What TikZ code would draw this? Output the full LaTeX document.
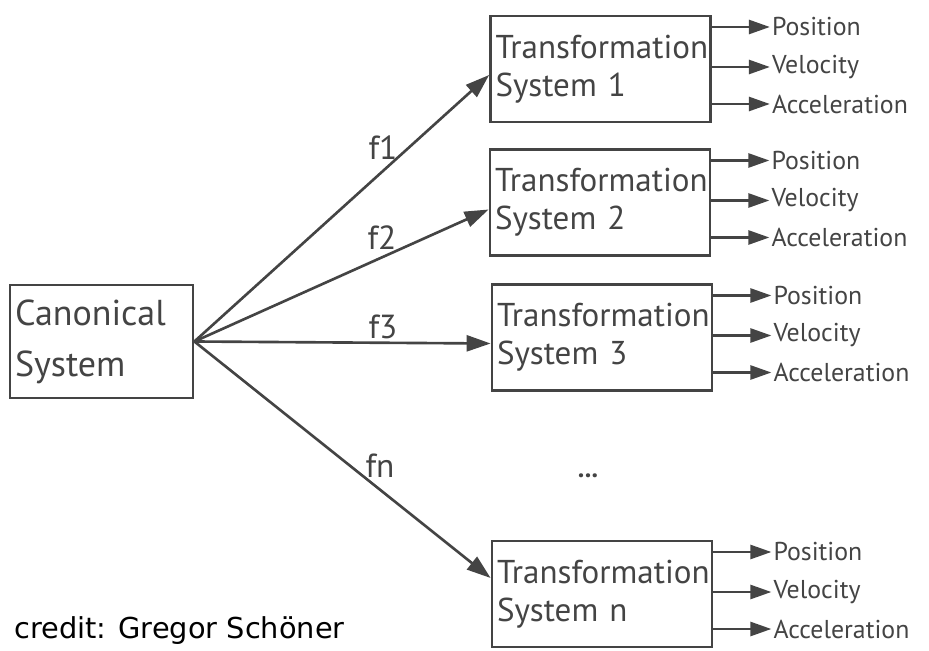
\documentclass[tikz,border=0pt]{standalone}
\usepackage{fontspec}
\setmainfont{PT Sans}
\newfontfamily\creditfont{DejaVu Sans}
\usetikzlibrary{arrows.meta, positioning, calc}
\definecolor{mydark}{RGB}{68,68,68}
\tikzset{
  sysbox/.style={rectangle, draw=mydark, line width=1.6pt, text=mydark,
    minimum width=4.4cm, minimum height=2.12cm, text width=4.2cm,
    align=left, inner xsep=0.1cm, font=\fontsize{18.8}{21.5}\selectfont},
  canonbox/.style={sysbox, minimum width=3.66cm, minimum height=2.26cm,
    text width=3.46cm, font=\fontsize{20.5}{29}\selectfont},
  arrow/.style={-{Triangle[length=0.48cm, width=0.32cm]}, line width=1.5pt, color=mydark},
  outarrow/.style={-{Triangle[length=0.42cm, width=0.28cm]}, line width=1.5pt, color=mydark},
  outlabel/.style={anchor=west, inner sep=1pt, text=mydark,
    font=\fontsize{14.7}{16}\selectfont},
  flabel/.style={text=mydark, font=\fontsize{19}{21}\selectfont}
}

\begin{document}
\begin{tikzpicture}[x=0.02cm, y=-0.02cm]
  \useasboundingbox (0,0) rectangle (929,651);

  % Canonical system
  \node[canonbox] (canon) at (101.5,341.5) {Canonical\\System};

  % Transformation systems
  \node[sysbox] (ts1) at (600.5,69) {Transformation\\System 1};
  \node[sysbox] (ts2) at (600,202.5) {Transformation\\System 2};
  \node[sysbox] (ts3) at (602,337.5) {Transformation\\System 3};
  \node[sysbox] (tsn) at (602,594) {Transformation\\System n};

  % Forcing terms
  \draw[arrow] (canon.east) -- ($(ts1.west)+(0,6)$);
  \draw[arrow] (canon.east) -- ($(ts2.west)+(0,7)$);
  \draw[arrow] (canon.east) -- ($(ts3.west)+(0,6)$);
  \draw[arrow] (canon.east) -- ($(tsn.west)+(0,-16)$);

  \node[flabel] (lf1) at (383,148) {f1};
  \node[flabel] (lf2) at (382,238) {f2};
  \node[flabel] (lf3) at (383,327) {f3};
  \node[flabel] (lfn) at (380,466) {fn};

  \node[text=mydark, font=\fontsize{15}{16}\selectfont\bfseries] (dots) at (588,476) {...};

  % Outputs
  \foreach \b in {ts1,ts2,ts3,tsn}{
    \foreach \dy/\lab in {-42/Position, -2/Velocity, 35/Acceleration}{
      \node[outlabel] (\b\lab) at ($(\b.east)+(58,\dy)$) {\lab};
      \draw[outarrow] (\b.east |- \b\lab.west) -- (\b\lab.west);
    }
  }

  % Credit
  \node[anchor=west, inner sep=0pt, font=\creditfont\fontsize{16.4}{18}\selectfont]
    (credit) at (14,631) {credit: Gregor Schöner};
\end{tikzpicture}
\end{document}
